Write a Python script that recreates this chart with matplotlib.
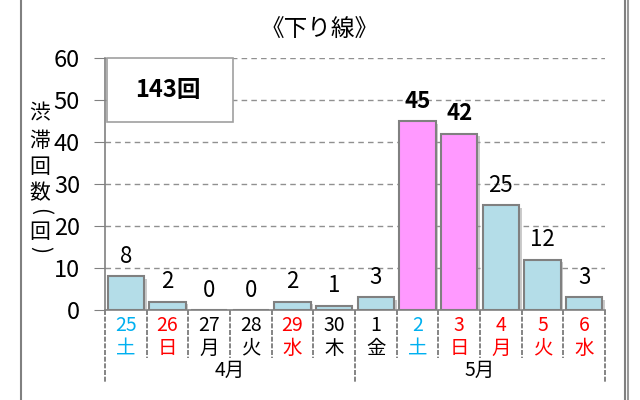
import matplotlib
matplotlib.use("Agg")
import matplotlib.pyplot as plt
import matplotlib.patheffects as pe
from matplotlib.lines import Line2D

plt.rcParams['font.family'] = ['Noto Sans CJK JP', 'DejaVu Sans']

# data
days = ['25', '26', '27', '28', '29', '30', '1', '2', '3', '4', '5', '6']
weekdays = ['土', '日', '月', '火', '水', '木', '金', '土', '日', '月', '火', '水']
counts = [8, 2, 0, 0, 2, 1, 3, 45, 42, 25, 12, 3]
highlight = [False] * 7 + [True, True] + [False] * 3
label_colors = ['#00B0F0', '#FF0000', 'black', 'black', '#FF0000', 'black',
                'black', '#00B0F0', '#FF0000', '#FF0000', '#FF0000', '#FF0000']
months = ['4月', '5月']
month_spans = [(0, 6), (6, 12)]
total_label = '143回'
title = '《下り線》'
ylabel_chars = ['渋', '滞', '回', '数', '(', '回', ')']

fig = plt.figure(figsize=(6.4, 4.0), dpi=100)
ax = fig.add_axes([105 / 640, 1 - 310 / 400, 500 / 640, 252 / 400])

x = list(range(len(counts)))
colors = ['#FF99FF' if h else '#B4DDE8' for h in highlight]
bars = ax.bar(x, counts, width=0.87, color=colors, edgecolor='#808080', linewidth=1.5,
              zorder=3)
for b in bars:
    b.set_path_effects([pe.SimplePatchShadow(offset=(2, -2), shadow_rgbFace='#999999', alpha=0.5),
                        pe.Normal()])

for xi, v, h in zip(x, counts, highlight):
    ax.text(xi, v + 2.0, str(v), ha='center', va='bottom', fontsize=16,
            fontweight='bold' if h else 'normal')

ax.set_xlim(-0.5, len(counts) - 0.5)
ax.set_ylim(0, 60)
ax.set_yticks(range(0, 61, 10))
ax.tick_params(axis='y', labelsize=17, length=8, color='#808080', pad=10)
ax.set_xticks([])
ax.yaxis.grid(True, linestyle='--', color='#909090', linewidth=1.0, dashes=(4, 3))
ax.set_axisbelow(True)
for s in ['top', 'right']:
    ax.spines[s].set_visible(False)
ax.spines['left'].set_color('#808080')
ax.spines['bottom'].set_color('#808080')
ax.spines['left'].set_linewidth(1.2)
ax.spines['bottom'].set_linewidth(1.2)

# category labels
trans = ax.get_xaxis_transform()
for xi, d, w, c in zip(x, days, weekdays, label_colors):
    ax.text(xi, -0.06, d, ha='center', va='center', fontsize=14, color=c, transform=trans)
    ax.text(xi, -0.152, w, ha='center', va='center', fontsize=14, color=c, transform=trans)
for i in range(len(counts) + 1):
    long = i in (0, 6, 12)
    ax.add_line(Line2D([i - 0.5, i - 0.5], [0, -0.286 if long else -0.19], transform=trans,
                       color='#707070', linewidth=1.2, linestyle=(0, (3, 1)), clip_on=False))
for m, (a, b) in zip(months, month_spans):
    ax.text((a + b - 1) / 2, -0.238, m, ha='center', va='center', fontsize=14, transform=trans)

# total box
ax.text(1.0, 52.4, total_label, ha='center', va='center', fontsize=17, fontweight='bold',
        transform=ax.transData, zorder=5)
ax.add_patch(plt.Rectangle((-0.45, 44.8), 3.02, 15.1, facecolor='white', edgecolor='#A0A0A0',
                           linewidth=1.2, zorder=4, clip_on=False))

# y label stacked vertically
ys_px = [113, 141, 167, 193, 212, 232, 249]
for ch, py in zip(ylabel_chars, ys_px):
    rot = -90 if ch in '()' else 0
    fig.text(40 / 640, 1 - py / 400, ch, ha='center', va='center', fontsize=15,
             rotation=rot, rotation_mode='anchor')

fig.text(0.5, 1 - 30 / 400, title, ha='center', va='center', fontsize=17)

# outer frame
fig.add_artist(Line2D([21 / 640, 21 / 640], [0, 1], color='#808080', linewidth=1.5))
fig.add_artist(Line2D([625 / 640, 625 / 640], [0, 1], color='#808080', linewidth=1.5,
                      path_effects=[pe.SimpleLineShadow(offset=(2, 0), alpha=0.4), pe.Normal()]))

fig.savefig('out.png', dpi=100)
